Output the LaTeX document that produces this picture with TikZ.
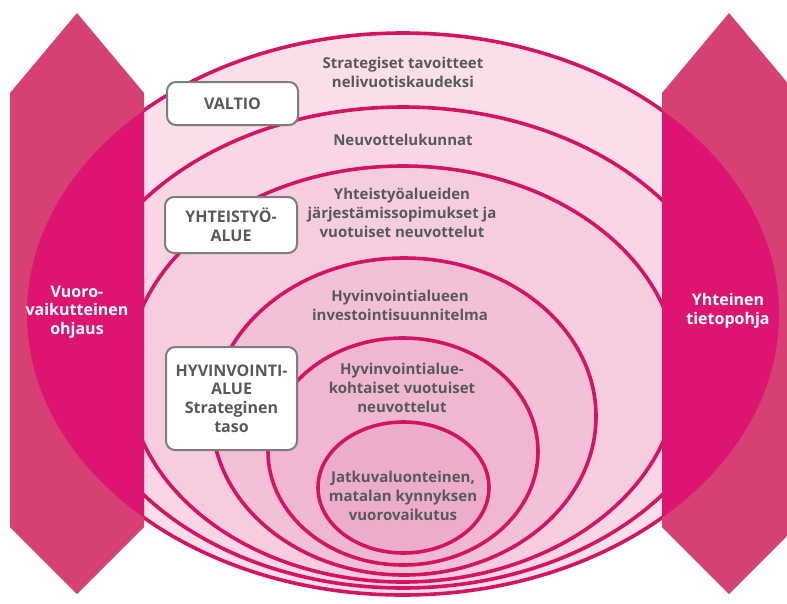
\documentclass[tikz,border=0pt]{standalone}
\usepackage{fontspec}
\setmainfont{Open Sans}
\definecolor{ringc}{RGB}{212,20,98}
\definecolor{txtc}{RGB}{88,89,91}
\definecolor{boxc}{RGB}{125,125,125}
\definecolor{hexlight}{RGB}{214,64,115}
\definecolor{hexdark}{RGB}{221,21,112}
\definecolor{fa}{RGB}{250,222,234}
\definecolor{fb}{RGB}{248,214,229}
\definecolor{fc}{RGB}{246,205,223}
\definecolor{fd}{RGB}{242,193,216}
\definecolor{fe}{RGB}{239,183,210}
\definecolor{ff}{RGB}{236,172,204}
\begin{document}
\begin{tikzpicture}[x=1pt,y=-1pt,
  ring/.style={draw=ringc, line width=3.6pt},
  lbl/.style={text=txtc, font=\bfseries\fontsize{15}{19}\selectfont, align=center, inner sep=0pt},
  hexlbl/.style={text=white, font=\bfseries\fontsize{16}{18.5}\selectfont, align=center, inner sep=0pt},
  levelbox/.style={draw=boxc, line width=2pt, fill=white, rounded corners=9pt, text=txtc,
    font=\bfseries\fontsize{16}{18.7}\selectfont, align=center, inner sep=0pt}
]
\useasboundingbox (0,0) rectangle (787,603);
\clip (0,0) rectangle (787,603);
% nested rings
\draw[ring, fill=fa] (403,314) ellipse [x radius=376pt, y radius=281pt];
\draw[ring, fill=fb] (403,347.5) ellipse [x radius=328pt, y radius=240.5pt];
\draw[ring, fill=fc] (403,374) ellipse [x radius=275pt, y radius=208pt];
\draw[ring, fill=fd] (404,416.5) ellipse [x radius=192pt, y radius=158.5pt];
\draw[ring, fill=fe] (403,451.5) ellipse [x radius=135pt, y radius=113.5pt];
\draw[ring, fill=ff] (403.5,487.5) ellipse [x radius=85.5pt, y radius=65.5pt];
% left hexagon
\begin{scope}
  \clip (10,93) -- (77,13) -- (144,93) -- (144,527) -- (77,594) -- (10,527) -- cycle;
  \fill[hexlight] (0,0) rectangle (160,603);
  \fill[hexdark] (403,314) ellipse [x radius=376pt, y radius=281pt];
\end{scope}
% right hexagon
\begin{scope}
  \clip (662,93) -- (729,13) -- (796,93) -- (796,527) -- (729,594) -- (662,527) -- cycle;
  \fill[hexlight] (650,0) rectangle (800,603);
  \fill[hexdark] (403,314) ellipse [x radius=376pt, y radius=281pt];
\end{scope}
% ring labels
\node[lbl] (t1) at (403,72) {Strategiset tavoitteet\\nelivuotiskaudeksi};
\node[lbl] (t2) at (403,140) {Neuvottelukunnat};
\node[lbl] (t3) at (402,213) {Yhteistyöalueiden\\järjestämissopimukset ja\\vuotuiset neuvottelut};
\node[lbl] (t4) at (400,305) {Hyvinvointialueen\\investointisuunnitelma};
\node[lbl] (t5) at (402,388) {Hyvinvointialue-\\kohtaiset vuotuiset\\neuvottelut};
\node[lbl] (t6) at (403,496) {Jatkuvaluonteinen,\\matalan kynnyksen\\vuorovaikutus};
% side labels
\node[hexlbl] (lh) at (77,312) {Vuoro-\\vaikutteinen\\ohjaus};
\node[hexlbl] (rh) at (728,311) {Yhteinen\\tietopohja};
% level boxes
\node[levelbox, minimum width=131pt, minimum height=43pt] (valtio) at (232.5,103.5) {VALTIO};
\node[levelbox, minimum width=132pt, minimum height=56pt] (yht) at (231,225) {YHTEISTYÖ-\\ALUE};
\node[levelbox, minimum width=131pt, minimum height=103pt] (hyv) at (231.5,398.5) {HYVINVOINTI-\\ALUE\\Strateginen\\taso};
\end{tikzpicture}
\end{document}
